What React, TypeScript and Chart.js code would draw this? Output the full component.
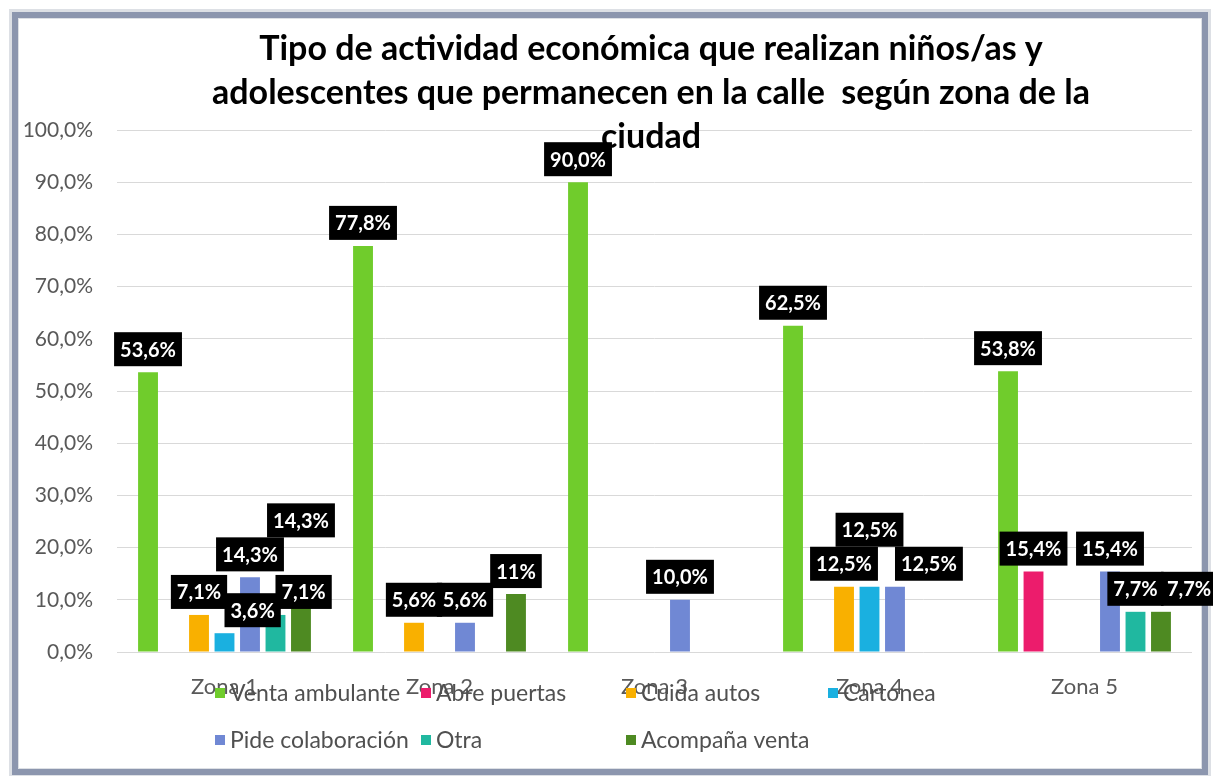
import React, { useEffect, useRef } from 'react';
import { Chart, registerables } from 'chart.js';

Chart.register(...registerables);

const categories = ['Zona 1', 'Zona 2', 'Zona 3', 'Zona 4', 'Zona 5'];
const seriesNames = ['Venta ambulante', 'Abre puertas', 'Cuida autos', 'Cartonea', 'Pide colaboración', 'Otra', 'Acompaña venta'];
const ventaAmbulante = [53.6, 77.8, 90.0, 62.5, 53.8];
const abrePuertas = [0, 0, 0, 0, 15.4];
const cuidaAutos = [7.1, 5.6, 0, 12.5, 0];
const cartonea = [3.6, 0, 0, 12.5, 0];
const pideColaboracion = [14.3, 5.6, 10.0, 12.5, 15.4];
const otra = [7.1, 0, 0, 0, 7.7];
const acompanaVenta = [14.3, 11.1, 0, 0, 7.7];
const acompanaVentaLabels = ['14,3%', '11%', '', '', '7,7%'];
const seriesColors = ['#70CC2C', '#EC1C6C', '#F9B000', '#1AB0E0', '#7088D4', '#20B8A0', '#4E8A22'];
const yTickValues = [0, 10, 20, 30, 40, 50, 60, 70, 80, 90, 100];
const titleLines = [
  'Tipo de actividad económica que realizan niños/as y',
  'adolescentes que permanecen en la calle  según zona de la',
  'ciudad',
];

const FONT = 'Lato, "Open Sans", sans-serif';

const fmt = (v: number) => v.toFixed(1).replace('.', ',') + '%';

const framePlugin = {
  id: 'frame',
  beforeDraw(chart: any) {
    const ctx = chart.ctx;
    ctx.save();
    ctx.fillStyle = '#ffffff';
    ctx.fillRect(0, 0, chart.width, chart.height);
    ctx.strokeStyle = 'rgba(120,130,150,0.25)';
    ctx.lineWidth = 10;
    ctx.strokeRect(14, 14, 1192, 759);
    ctx.strokeStyle = '#8C96AE';
    ctx.lineWidth = 6;
    ctx.strokeRect(15, 15, 1190, 757);
    ctx.restore();
  },
};

type Box = { x: number; y: number; w: number; h: number };
const overlapArea = (a: Box, b: Box) => {
  const ox = Math.max(0, Math.min(a.x + a.w, b.x + b.w) - Math.max(a.x, b.x));
  const oy = Math.max(0, Math.min(a.y + a.h, b.y + b.h) - Math.max(a.y, b.y));
  return ox * oy;
};

const labelPlugin = {
  id: 'barLabels',
  afterDatasetsDraw(chart: any) {
    const ctx = chart.ctx;
    ctx.save();
    ctx.font = `bold 34px ${FONT}`;
    ctx.fillStyle = '#000000';
    ctx.textAlign = 'center';
    ctx.textBaseline = 'middle';
    titleLines.forEach((l, i) => ctx.fillText(l, 651, 49 + i * 44));

    ctx.font = `bold 20px ${FONT}`;
    const nCat = chart.data.labels.length;
    for (let c = 0; c < nCat; c++) {
      const placed: Box[] = [];
      chart.data.datasets.forEach((ds: any, di: number) => {
        const bar = chart.getDatasetMeta(di).data[c];
        const v = ds.data[c];
        if (!v || !bar) return;
        const text = ds.labelTexts ? ds.labelTexts[c] : fmt(v);
        const w = ctx.measureText(text).width + 12;
        const h = 34;
        const base: Box = { x: bar.x - w / 2, y: bar.y - 6 - h, w, h };
        const candidates: Box[] = [
          base,
          { ...base, y: base.y - h },
          { ...base, x: base.x + w / 2 },
          { ...base, y: base.y - 2 * h },
        ];
        let chosen = candidates[0];
        for (const cand of candidates) {
          const worst = placed.reduce((m, p) => Math.max(m, overlapArea(cand, p)), 0);
          if (worst <= 0.15 * w * h) { chosen = cand; break; }
        }
        placed.push(chosen);
        ctx.fillStyle = '#000000';
        ctx.fillRect(chosen.x, chosen.y, chosen.w, chosen.h);
        ctx.fillStyle = '#ffffff';
        ctx.fillText(text, chosen.x + chosen.w / 2, chosen.y + h / 2 + 1);
      });
    }
    ctx.restore();
  },
};

const legendPlugin = {
  id: 'gridLegend',
  afterDraw(chart: any) {
    const ctx = chart.ctx;
    const colX = [215, 421, 626, 828];
    const rowY = [693, 740];
    ctx.save();
    ctx.font = `23px ${FONT}`;
    ctx.textAlign = 'left';
    ctx.textBaseline = 'middle';
    chart.data.datasets.forEach((ds: any, i: number) => {
      const x = colX[i % 4];
      const y = rowY[Math.floor(i / 4)];
      ctx.fillStyle = ds.backgroundColor;
      ctx.fillRect(x, y - 5, 10, 10);
      ctx.fillStyle = '#505050';
      ctx.fillText(ds.label, x + 15, y + 1);
    });
    ctx.restore();
  },
};

export default function App() {
  const ref = useRef<HTMLCanvasElement>(null);
  useEffect(() => {
    if (!ref.current) return;
    const values = [ventaAmbulante, abrePuertas, cuidaAutos, cartonea, pideColaboracion, otra, acompanaVenta];
    const chart = new Chart(ref.current, {
      type: 'bar',
      data: {
        labels: categories,
        datasets: values.map((d, i) => ({
          label: seriesNames[i],
          data: d,
          backgroundColor: seriesColors[i],
          borderWidth: 0,
          categoryPercentage: 0.83,
          barPercentage: 0.78,
          ...(i === 6 ? { labelTexts: acompanaVentaLabels } : {}),
        })) as any,
      },
      options: {
        animation: false,
        responsive: false,
        devicePixelRatio: 1,
        layout: { padding: { top: 130, right: 21, left: 0, bottom: 0 } },
        plugins: {
          legend: { display: false },
          title: { display: false },
          tooltip: { enabled: false },
        },
        scales: {
          x: {
            grid: { display: false, drawTicks: false },
            border: { display: false },
            ticks: { color: '#595959', font: { family: FONT, size: 22 }, padding: 22 },
            afterFit: (s: any) => { s.height = 124; },
          },
          y: {
            min: 0,
            max: 100,
            afterBuildTicks: (s: any) => { s.ticks = yTickValues.map((v) => ({ value: v })); },
            grid: { color: '#D9D9D9', drawTicks: false },
            border: { display: false },
            ticks: {
              color: '#595959',
              font: { family: FONT, size: 21 },
              padding: 24,
              callback: (v: any) => fmt(Number(v)),
            },
            afterFit: (s: any) => { s.width = 117; },
          },
        },
      } as any,
      plugins: [framePlugin, labelPlugin, legendPlugin],
    });
    return () => chart.destroy();
  }, []);
  return (
    <div style={{ position: 'fixed', left: 0, top: 0, width: 1213, height: 776 }}>
      <canvas ref={ref} width={1213} height={776} style={{ width: 1213, height: 776 }} />
    </div>
  );
}
